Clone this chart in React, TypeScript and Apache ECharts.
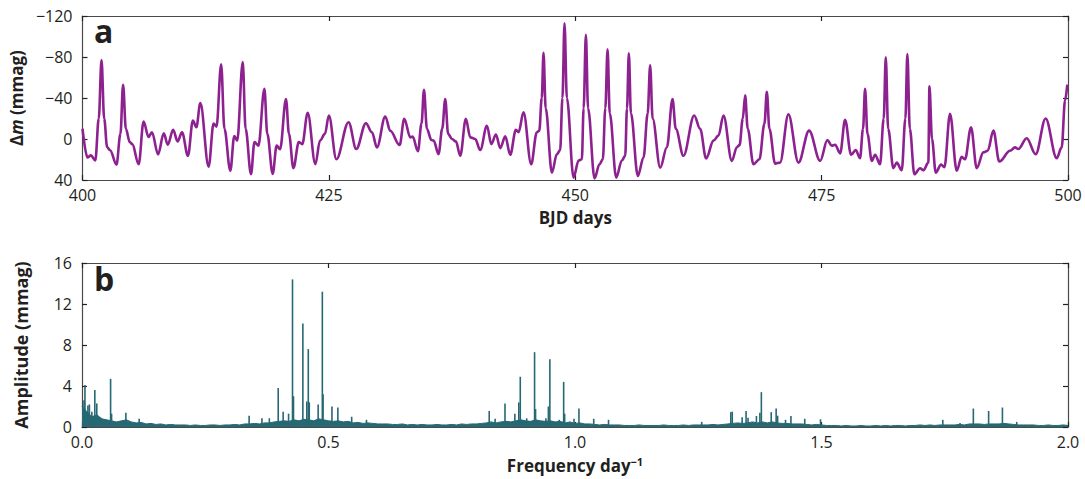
import React, { useEffect, useRef } from "react";
import * as echarts from "echarts";

// Panel a: light curve [BJD day, Δm mmag]
const lightCurve: [number, number][] = [
  [400.0, -10], [400.5, 18], [400.85, 16], [401.3, 21], [401.65, -20], [401.93, -77], [402.2, -20],
  [402.5, 8], [402.8, 11], [403.45, 25], [403.85, -5], [404.12, -53], [404.4, -10], [404.8, 3],
  [405.05, 5], [405.7, 24.6], [406.2, -17], [406.7, -2], [407.05, -6.5], [407.67, 15], [408.25, -5.6],
  [408.65, 5.6], [409.2, -9], [409.65, 2.3], [410.1, -6.6], [410.7, 16.4], [411.2, -18], [411.55, -11.5],
  [411.96, -35], [412.8, 27], [413.3, -15], [413.6, -12], [414.07, -73], [414.4, -10], [415.0, 31],
  [415.4, -3], [415.7, 1.6], [416.26, -75], [416.55, -10], [417.1, 34.4], [417.45, 3], [417.85, 6.5],
  [418.46, -49], [418.75, -5], [419.3, 34], [419.7, 6.5], [420.05, 10], [420.65, -39], [420.95, -5],
  [421.4, 28.5], [421.95, 3], [422.3, 5], [422.85, -25.6], [423.63, 24.6], [424.1, 1.6], [424.6, -5],
  [425.0, -23], [425.76, 19.7], [427.0, -16.4], [427.78, 9.8], [428.76, -15.4], [429.37, -6.5],
  [429.88, 8.2], [430.72, -22], [431.23, -8], [432.18, 5.9], [432.65, -19.7], [433.26, -1.6],
  [433.5, -2.3], [434.04, 12], [434.4, -15], [434.65, -48], [434.95, -10], [435.4, 1], [435.63, 1.6],
  [436.13, 14.8], [436.5, -10], [436.81, -39], [437.1, -5], [437.49, 0], [437.89, 2.3], [438.33, 16.4],
  [438.9, -19.7], [439.35, -1.6], [439.85, 0], [440.36, 10.8], [441.04, -13], [441.48, 5], [441.95, -4.3],
  [442.39, 8.9], [442.9, -2.6], [443.4, 15.4], [443.98, -9], [444.25, -6.6], [444.75, -26], [445.53, 24.6],
  [446.1, -6.6], [446.35, -8], [446.6, -40], [446.78, -84], [447.0, -30], [447.63, 32.8], [448.14, 14.8],
  [448.47, 10.8], [448.7, -40], [448.91, -113], [449.15, -40], [449.83, 37.7], [450.34, 21], [450.67, 19.7],
  [450.85, -30], [451.08, -101.7], [451.3, -30], [451.96, 38.4], [452.46, 24.6], [452.8, 19.7],
  [453.05, -30], [453.28, -87.6], [453.5, -25], [454.16, 37.7], [454.73, 21], [455.07, 16.4],
  [455.25, -30], [455.44, -83.6], [455.65, -25], [456.35, 36], [456.93, 18], [457.35, -25], [457.6, -72],
  [457.85, -20], [458.62, 27.9], [459.3, 8], [459.87, -39], [460.2, -10], [460.98, 16.4], [462.07, -23],
  [462.67, -10], [463.28, 19], [464.03, 1.6], [464.53, -3.3], [465.04, -23], [465.89, 21.3], [466.4, 8],
  [466.67, 6], [467.0, -20], [467.24, -42.6], [467.5, -10], [468.08, 24.6], [468.69, 19.7], [469.2, -15],
  [469.44, -46], [469.7, -10], [470.28, 24], [470.78, 23], [471.63, -24], [472.65, 23], [473.73, -8.2],
  [474.85, 21.3], [475.59, 1], [476.03, 6.6], [476.37, 5.6], [476.88, 14], [477.38, -18.7], [477.99, 15.4],
  [478.46, 10.8], [478.9, 18.7], [479.2, -10], [479.41, -49], [479.65, -5], [480.09, 21.3], [480.43, 15.4],
  [480.93, 24.6], [481.3, -20], [481.51, -79.7], [481.75, -10], [482.28, 28.5], [482.62, 23], [483.13, 30.5],
  [483.5, -20], [483.7, -83], [483.95, -10], [484.41, 34.4], [484.99, 28.5], [485.33, 30.5], [485.83, 23],
  [485.94, -51.5], [486.2, 0], [486.58, 32.8], [487.12, 25], [487.46, 27.5], [488.03, -24.6], [488.71, 31],
  [489.21, 17.4], [489.55, 19.7], [490.16, -11.5], [490.74, 28.5], [491.41, 13], [491.85, 11.5],
  [492.43, -8.2], [493.03, 22], [494.12, 11.5], [494.63, 8.2], [494.96, 9.8], [495.81, -0.7], [496.72, 14.8],
  [497.73, -20], [498.85, 18.7], [499.36, 8.2], [499.7, -37.7], [499.93, -53],
];

// Panel b: noise floor of the amplitude spectrum, one value per 0.01 day^-1 from 0.00 to 2.00
const noiseStart = 0;
const noiseStep = 0.01;
const noiseFloor: number[] = [
  2.0,
  1.5, 1.0, 1.2, 0.8, 0.7, 0.6, 0.5, 0.6, 0.7, 0.5,
  0.4, 0.45, 0.3, 0.35, 0.25, 0.3, 0.2, 0.25, 0.2, 0.2,
  0.2, 0.15, 0.2, 0.15, 0.15, 0.2, 0.2, 0.15, 0.2, 0.2,
  0.25, 0.2, 0.3, 0.3, 0.35, 0.3, 0.4, 0.4, 0.5, 0.55,
  0.6, 0.55, 0.7, 0.6, 0.75, 0.7, 0.6, 0.8, 0.7, 0.6,
  0.55, 0.6, 0.5, 0.55, 0.4, 0.45, 0.35, 0.4, 0.35, 0.3,
  0.3, 0.3, 0.25, 0.25, 0.3, 0.2, 0.25, 0.2, 0.25, 0.2,
  0.2, 0.25, 0.2, 0.2, 0.25, 0.2, 0.3, 0.25, 0.3, 0.3,
  0.35, 0.4, 0.5, 0.4, 0.5, 0.55, 0.5, 0.6, 0.7, 0.6,
  0.55, 0.7, 0.6, 0.55, 0.6, 0.5, 0.55, 0.4, 0.5, 0.35,
  0.4, 0.3, 0.3, 0.25, 0.2, 0.25, 0.2, 0.2, 0.2, 0.15,
  0.15, 0.15, 0.2, 0.15, 0.15, 0.15, 0.15, 0.2, 0.15, 0.15,
  0.15, 0.2, 0.15, 0.2, 0.2, 0.2, 0.2, 0.25, 0.2, 0.25,
  0.3, 0.35, 0.4, 0.35, 0.4, 0.5, 0.4, 0.5, 0.4, 0.5,
  0.4, 0.35, 0.35, 0.3, 0.3, 0.3, 0.25, 0.2, 0.25, 0.2,
  0.15, 0.15, 0.15, 0.1, 0.15, 0.1, 0.1, 0.15, 0.1, 0.1,
  0.15, 0.1, 0.15, 0.1, 0.15, 0.15, 0.1, 0.15, 0.15, 0.2,
  0.15, 0.2, 0.15, 0.2, 0.2, 0.2, 0.2, 0.25, 0.2, 0.3,
  0.3, 0.3, 0.25, 0.3, 0.3, 0.3, 0.35, 0.3, 0.25, 0.2,
  0.2, 0.2, 0.2, 0.15, 0.15, 0.2, 0.15, 0.15, 0.2, 0.15,
];

// Panel b: individual spectral peaks [frequency day^-1, amplitude mmag]
const peaks: [number, number][] = [
  [0.004, 2.6], [0.006, 4.1], [0.012, 2.1], [0.015, 2.2], [0.02, 1.5], [0.026, 3.6], [0.03, 2.3],
  [0.038, 0.9], [0.058, 4.7], [0.06, 1.3], [0.089, 1.4], [0.116, 0.8], [0.339, 1.1], [0.365, 0.85],
  [0.38, 0.85], [0.398, 3.8], [0.408, 1.5], [0.419, 1.3], [0.427, 14.4], [0.429, 3.0], [0.448, 10.1],
  [0.456, 2.5], [0.459, 7.6], [0.461, 2.4], [0.479, 2.2], [0.4875, 13.2], [0.489, 3.2], [0.507, 2.0],
  [0.519, 1.9], [0.547, 1.0], [0.577, 0.7], [0.826, 1.56], [0.838, 0.8], [0.858, 2.3], [0.878, 1.3],
  [0.886, 2.4], [0.889, 4.9], [0.902, 0.85], [0.918, 7.3], [0.92, 1.75], [0.941, 0.85], [0.946, 2.0],
  [0.949, 6.6], [0.968, 0.7], [0.977, 4.4], [0.979, 1.3], [0.998, 0.8], [1.008, 1.8], [1.038, 0.8],
  [1.068, 0.7], [1.257, 0.5], [1.316, 1.45], [1.319, 1.5], [1.339, 0.95], [1.347, 1.55], [1.351, 0.9],
  [1.368, 1.07], [1.375, 1.4], [1.378, 3.4], [1.398, 1.45], [1.408, 1.8], [1.411, 1.1], [1.427, 0.7],
  [1.438, 1.07], [1.466, 0.8], [1.498, 0.75], [1.746, 0.7], [1.781, 0.4], [1.808, 1.8], [1.839, 1.56],
  [1.867, 1.9], [1.896, 0.5],
];

const PURPLE = "#8d2190";
const TEAL = "#266873";
const FRAME = "#4a4a4a";
const TXT = "#231f20";
const FONT = "'Open Sans', 'Noto Sans', sans-serif";

const minus = (v: number) => (v < 0 ? "\u2212" + Math.abs(v) : String(v));

function frameAxis(grid: number, pos: string, min: number, max: number, interval: number, extra: any = {}) {
  return {
    type: "value",
    gridIndex: grid,
    position: pos,
    min,
    max,
    interval,
    axisLine: { show: true, onZero: false, lineStyle: { color: FRAME, width: 1.2 } },
    axisTick: { show: true, inside: true, length: 5, lineStyle: { color: "#222", width: 1.2 } },
    axisLabel: { show: false },
    splitLine: { show: false },
    ...extra,
  };
}

export default function App() {
  const ref = useRef<HTMLDivElement>(null);
  useEffect(() => {
    if (!ref.current) return;
    const chart = echarts.init(ref.current, undefined, { renderer: "svg" });
    const tickLabel = { show: true, color: TXT, fontSize: 16, fontFamily: FONT };
    const nameStyle = { color: TXT, fontSize: 17, fontWeight: "bold", fontFamily: FONT };
    const noiseData = noiseFloor.map((a, i) => [+(noiseStart + i * noiseStep).toFixed(2), a]);
    chart.setOption({
      animation: false,
      grid: [
        { left: 82, top: 16, width: 986, height: 164 },
        { left: 82, top: 263, width: 986, height: 164 },
      ],
      xAxis: [
        frameAxis(0, "bottom", 400, 500, 25, {
          axisLabel: { ...tickLabel, margin: 7 },
          name: "BJD days",
          nameLocation: "middle",
          nameGap: 29,
          nameTextStyle: nameStyle,
        }),
        frameAxis(0, "top", 400, 500, 25),
        frameAxis(1, "bottom", 0, 2, 0.5, {
          axisLabel: { ...tickLabel, margin: 7, formatter: (v: number) => v.toFixed(1) },
          name: "Frequency day{s|\u22121}",
          nameLocation: "middle",
          nameGap: 29,
          nameTextStyle: {
            ...nameStyle,
            lineHeight: 18,
            rich: {
              s: { fontSize: 11, fontWeight: "bold", fontFamily: FONT, color: TXT, verticalAlign: "top", lineHeight: 18 },
            },
          },
        }),
        frameAxis(1, "top", 0, 2, 0.5),
      ],
      yAxis: [
        frameAxis(0, "left", -120, 40, 40, {
          inverse: true,
          axisLabel: { ...tickLabel, margin: 10, formatter: minus },
          name: "{n|\u0394}{i|m}{n| (mmag)}",
          nameLocation: "middle",
          nameGap: 52,
          nameTextStyle: {
            ...nameStyle,
            rich: {
              n: { ...nameStyle },
              i: { ...nameStyle, fontStyle: "italic" },
            },
          },
        }),
        frameAxis(0, "right", -120, 40, 40, { inverse: true }),
        frameAxis(1, "left", 0, 16, 4, {
          axisLabel: { ...tickLabel, margin: 10 },
          name: "Amplitude (mmag)",
          nameLocation: "middle",
          nameGap: 52,
          nameTextStyle: { ...nameStyle, fontSize: 18 },
        }),
        frameAxis(1, "right", 0, 16, 4),
      ],
      graphic: [
        { type: "text", left: 94, top: 14, style: { text: "a", fontSize: 32, fontWeight: "bold", fontFamily: FONT, fill: TXT } },
        { type: "text", left: 94, top: 262, style: { text: "b", fontSize: 32, fontWeight: "bold", fontFamily: FONT, fill: TXT } },
      ],
      series: [
        {
          type: "line",
          xAxisIndex: 0,
          yAxisIndex: 0,
          data: lightCurve,
          showSymbol: false,
          smooth: 0.35,
          smoothMonotone: "x",
          lineStyle: { color: PURPLE, width: 2.6 },
          z: 3,
        },
        {
          type: "line",
          xAxisIndex: 2,
          yAxisIndex: 2,
          data: noiseData,
          showSymbol: false,
          lineStyle: { color: TEAL, width: 1 },
          areaStyle: { color: TEAL, opacity: 1 },
          z: 2,
        },
        {
          type: "bar",
          xAxisIndex: 2,
          yAxisIndex: 2,
          data: peaks,
          barWidth: 1.6,
          itemStyle: { color: TEAL },
          z: 3,
        },
      ],
    });
    return () => chart.dispose();
  }, []);
  return (
    <div
      ref={ref}
      style={{ position: "fixed", left: 0, top: 0, width: 1085, height: 479, background: "#fff" }}
    />
  );
}
